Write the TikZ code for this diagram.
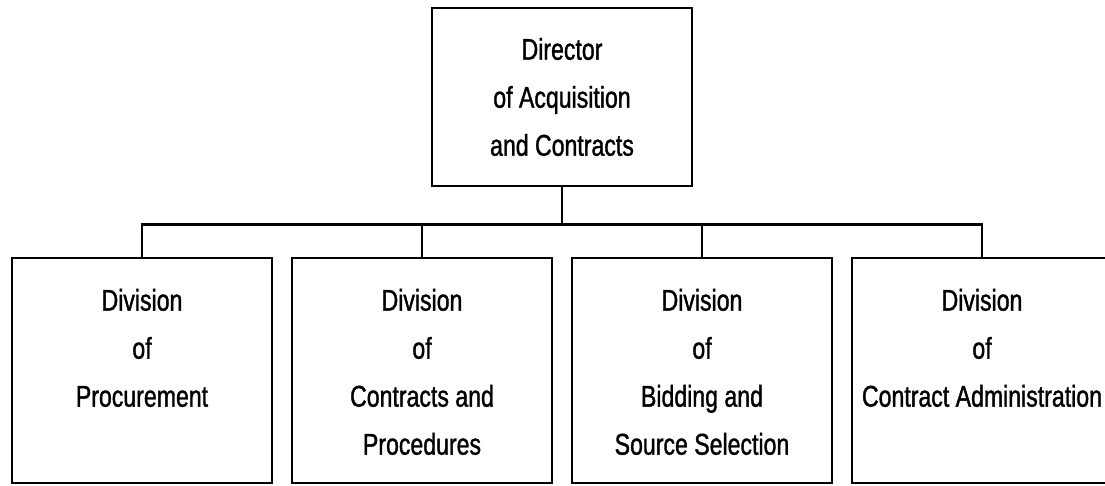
\documentclass[tikz,border=0pt]{standalone}
\usepackage{fontspec}
\setmainfont{Liberation Sans}[FakeStretch=0.77, FakeBold=1.2]

\tikzset{
	chartbox/.style={rectangle, draw, line width=2.6pt, minimum width=260pt},
	headbox/.style={chartbox, minimum height=178pt, align=center},
	divbox/.style={chartbox, minimum height=225pt},
	divtext/.style={anchor=north, align=center, inner sep=0pt, yshift=-31pt}
}

\begin{document}
\begin{tikzpicture}[font=\fontsize{30}{48}\selectfont, line width=2.4pt]
	\useasboundingbox (0,0) rectangle (1105pt,-485pt);

	\node[headbox] (dir) at (562pt,-97pt) {Director\\of Acquisition\\and Contracts}
		[level distance=273.5pt, sibling distance=280pt]
		[edge from parent path={(\tikzparentnode.south) -- +(0pt,-37pt) -| (\tikzchildnode.north)}]
		child {node[divbox, label={[divtext, name=proctext]north:Division\\of\\Procurement}] (proc) {}}
		child {node[divbox, label={[divtext, name=conttext]north:Division\\of\\Contracts and\\Procedures}] (cont) {}}
		child {node[divbox, label={[divtext, name=bidtext]north:Division\\of\\Bidding and\\Source Selection}] (bid) {}}
		child {node[divbox, label={[divtext, name=admtext]north:Division\\of\\Contract Administration}] (adm) {}};
\end{tikzpicture}
\end{document}
